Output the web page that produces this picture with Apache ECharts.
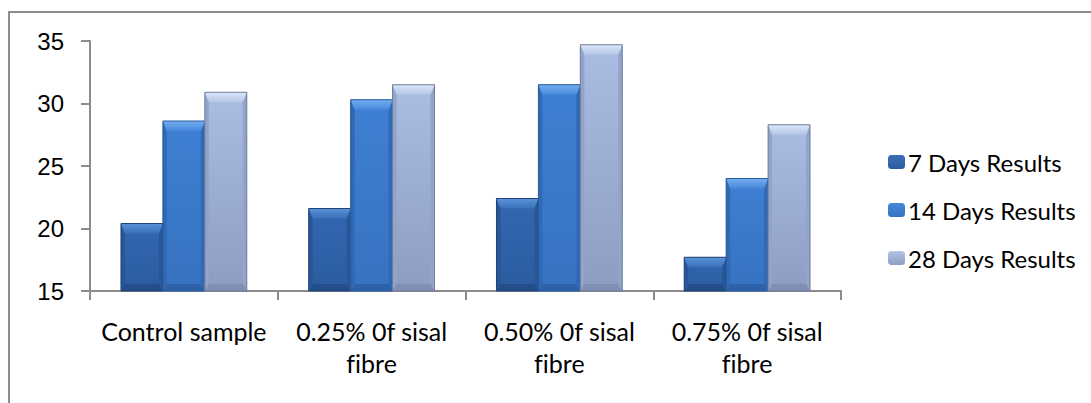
<!DOCTYPE html>
<html>
<head>
<meta charset="utf-8">
<script src="https://cdn.jsdelivr.net/npm/echarts@6/dist/echarts.min.js"></script>
<style>
html,body{margin:0;padding:0;background:#fff;}
#chart{width:1091px;height:403px;}
#chart text{font-variant-ligatures:none;font-feature-settings:"liga" 0;}
</style>
</head>
<body>
<div id="chart"></div>
<script>
const categories = ["Control sample", "0.25% 0f sisal\nfibre", "0.50% 0f sisal\nfibre", "0.75% 0f sisal\nfibre"];
const seriesNames = ["7 Days Results", "14 Days Results", "28 Days Results"];
const days7 = [20.4, 21.6, 22.4, 17.7];
const days14 = [28.6, 30.3, 31.5, 24.0];
const days28 = [30.9, 31.5, 34.7, 28.3];
const yTicks = [15, 20, 25, 30, 35];

const values = [days7, days14, days28];
const Y_MIN = yTicks[0];
const GAP = 0.33;

function vgrad(a, b) {
  return new echarts.graphic.LinearGradient(0, 0, 0, 1, [{offset: 0, color: a}, {offset: 1, color: b}]);
}
const looks = [
  {main: ['#3367B1', '#2B5C9F'], top: ['#5B92D8', '#3A70B8'], side: '#285697', bottom: '#234E8A', stroke: '#1E4479'},
  {main: ['#3E80D4', '#3672C0'], top: ['#74AEF0', '#4788DA'], side: '#3169B5', bottom: '#2D62AA', stroke: '#285A9C'},
  {main: ['#AABDE2', '#8D9DC1'], top: ['#DCE7F8', '#B3C5E6'], side: '#93A4CA', bottom: '#8090B3', stroke: '#6E7C9C'}
];

function makeRender(si) {
  return function (params, api) {
    const ci = api.value(0), v = api.value(1);
    const top = api.coord([ci, v]);
    const base = api.coord([ci, Y_MIN]);
    const W = api.size([1, 0])[0];
    const bw = W * (1 - GAP) / 3;
    const x0 = top[0] - 1.5 * bw + si * bw;
    const x1 = x0 + bw;
    const y0 = top[1], y1 = base[1];
    const h = y1 - y0;
    const b = Math.min(10, h / 3), s = 4, bb = Math.min(7, h / 4);
    const L = looks[si];
    return {
      type: 'group',
      children: [
        {type: 'rect', shape: {x: x0, y: y0, width: bw, height: h}, style: {fill: vgrad(L.main[0], L.main[1])}},
        {type: 'polygon', shape: {points: [[x0, y0], [x0 + s, y0 + b], [x0 + s, y1 - bb], [x0, y1]]}, style: {fill: L.side}},
        {type: 'polygon', shape: {points: [[x1, y0], [x1 - s, y0 + b], [x1 - s, y1 - bb], [x1, y1]]}, style: {fill: L.side}},
        {type: 'polygon', shape: {points: [[x0, y1], [x0 + s, y1 - bb], [x1 - s, y1 - bb], [x1, y1]]}, style: {fill: L.bottom}},
        {type: 'polygon', shape: {points: [[x0, y0], [x1, y0], [x1 - s, y0 + b], [x0 + s, y0 + b]]}, style: {fill: vgrad(L.top[0], L.top[1])}},
        {type: 'rect', shape: {x: x0, y: y0, width: bw, height: h}, style: {fill: null, stroke: L.stroke, lineWidth: 1}}
      ]
    };
  };
}

const chart = echarts.init(document.getElementById('chart'), null, {renderer: 'svg'});
chart.setOption({
  animation: false,
  backgroundColor: '#ffffff',
  grid: {left: 90, right: 250, top: 41, bottom: 112, containLabel: false},
  legend: {
    orient: 'vertical',
    left: 883,
    top: 145,
    itemWidth: 17,
    itemHeight: 14,
    itemGap: 24,
    textStyle: {fontFamily: 'Lato', fontSize: 24, color: '#000', lineHeight: 24, padding: [0, 0, 0, -2]},
    data: seriesNames
  },
  xAxis: {
    type: 'category',
    data: categories,
    axisLine: {lineStyle: {color: '#8C8C8C', width: 2}},
    axisTick: {show: true, length: 9, lineStyle: {color: '#8C8C8C', width: 2}},
    axisLabel: {fontFamily: 'Lato', fontSize: 25, color: '#000', margin: 24, lineHeight: 32, interval: 0}
  },
  yAxis: {
    type: 'value',
    min: Y_MIN,
    max: yTicks[yTicks.length - 1],
    interval: 5,
    splitLine: {show: false},
    axisLine: {show: true, lineStyle: {color: '#8C8C8C', width: 2}},
    axisTick: {show: true, length: 9, lineStyle: {color: '#8C8C8C', width: 2}},
    axisLabel: {fontFamily: 'Liberation Sans', fontSize: 24, color: '#000', margin: 26}
  },
  series: seriesNames.map((name, i) => ({
    name: name,
    type: 'custom',
    renderItem: makeRender(i),
    encode: {x: 0, y: 1},
    itemStyle: {color: vgrad(looks[i].top[1], looks[i].main[1])},
    data: values[i].map((v, ci) => [ci, v])
  })),
  graphic: [{
    type: 'polyline',
    shape: {points: [[9, 403], [9, 12], [1091, 12]]},
    style: {stroke: '#8C8C8C', lineWidth: 2, fill: null},
    silent: true
  }]
});
</script>
</body>
</html>
